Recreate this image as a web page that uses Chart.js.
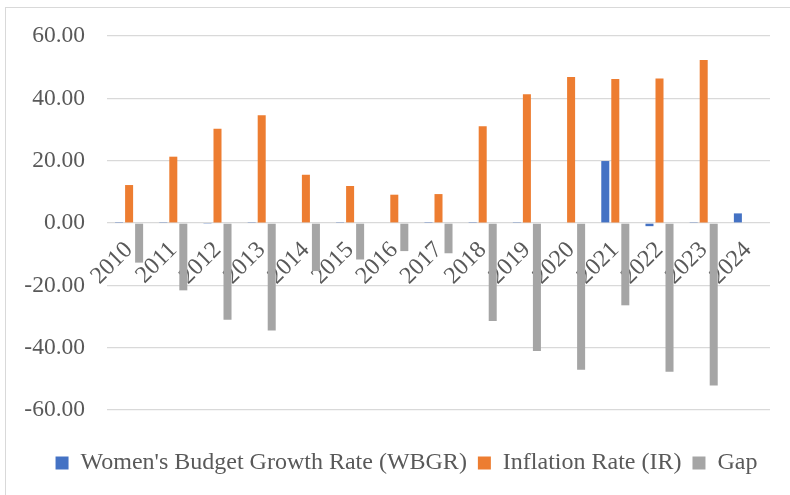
<!DOCTYPE html>
<html>
<head>
<meta charset="utf-8">
<script src="https://cdn.jsdelivr.net/npm/chart.js@4/dist/chart.umd.min.js"></script>
<style>
  html, body { margin: 0; padding: 0; background: #fff; }
  #wrap { position: relative; width: 790px; height: 495px; overflow: hidden; }
  #frame { position: absolute; left: 5px; top: 7px; width: 900px; height: 600px;
           border-left: 1px solid #d9d9d9; border-top: 1px solid #d9d9d9; }
  canvas { position: absolute; left: 0; top: 0; }
</style>
</head>
<body>
<div id="wrap">
  <div id="frame"></div>
  <canvas id="c" width="790" height="495"></canvas>
</div>
<script>
const years = ['2010','2011','2012','2013','2014','2015','2016','2017','2018','2019','2020','2021','2022','2023','2024'];
const wbgr = [0.1, 0.3, -0.3, 0.3, 0.2, 0.3, 0.2, 0.1, 0.1, 0.3, 0.2, 19.9, -1.0, 0.3, 3.1];
const inflation = [12.2, 21.3, 30.3, 34.6, 15.5, 11.9, 9.1, 9.3, 31.1, 41.3, 46.9, 46.2, 46.4, 52.3, null];
const gap = [-12.7, -21.6, -31.0, -34.5, -15.4, -11.7, -9.0, -9.7, -31.4, -41.1, -47.1, -26.4, -47.7, -52.1, null];
const seriesNames = ["Women's Budget Growth Rate (WBGR)", 'Inflation Rate (IR)', 'Gap'];

const FONT = '"Liberation Serif", "Times New Roman", serif';
const TXT = '#595959';

const barOpts = { categoryPercentage: 0.68, barPercentage: 0.8, borderWidth: 0 };

new Chart(document.getElementById('c'), {
  type: 'bar',
  data: {
    labels: years,
    datasets: [
      Object.assign({ label: seriesNames[0], data: wbgr, backgroundColor: '#4472C4' }, barOpts),
      Object.assign({ label: seriesNames[1], data: inflation, backgroundColor: '#ED7D31' }, barOpts),
      Object.assign({ label: seriesNames[2], data: gap, backgroundColor: '#A5A5A5' }, barOpts)
    ]
  },
  options: {
    responsive: false,
    animation: false,
    devicePixelRatio: 1,
    layout: { padding: { left: 23, right: 0, top: 23, bottom: 10 } },
    plugins: {
      tooltip: { enabled: false },
      legend: {
        position: 'bottom',
        title: { display: true, text: ' ', font: { size: 10 }, padding: { top: 18, bottom: 0 } },
        labels: {
          boxWidth: 13, boxHeight: 13, padding: 11,
          color: TXT,
          font: { family: FONT, size: 24 }
        }
      }
    },
    scales: {
      x: {
        position: { y: 0 },
        grid: { display: false, drawTicks: false },
        border: { display: false },
        ticks: {
          color: TXT, font: { family: FONT, size: 24 },
          minRotation: 45, maxRotation: 45, padding: 13, autoSkip: false
        }
      },
      y: {
        min: -60, max: 60,
        afterFit: (s) => { s.width = 84; },
        grid: { color: '#d9d9d9', lineWidth: 1.3, drawTicks: false },
        border: { display: false },
        ticks: {
          stepSize: 20, padding: 22, color: TXT,
          font: { family: FONT, size: 23.5 },
          callback: (v) => Number(v).toFixed(2)
        }
      },
      spacer: {
        type: 'linear',
        axis: 'y',
        position: 'right',
        display: true,
        afterFit: (s) => { s.width = 20; },
        grid: { display: false, drawTicks: false },
        border: { display: false },
        ticks: { display: false }
      }
    }
  }
});
</script>
</body>
</html>
